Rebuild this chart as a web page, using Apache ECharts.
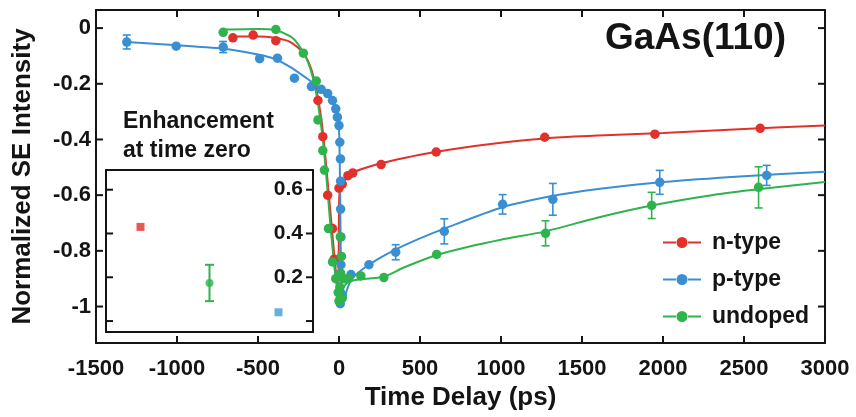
<!DOCTYPE html>
<html><head><meta charset="utf-8">
<script src="https://cdn.jsdelivr.net/npm/echarts@6/dist/echarts.min.js"></script>
<style>html,body{margin:0;padding:0;background:#fff}#c{width:856px;height:417px}</style>
</head><body><div id="c"></div>
<script>
// ---- data ----
const seriesNames = ['n-type', 'p-type', 'undoped'];
const xTickValues = [-1500, -1000, -500, 0, 500, 1000, 1500, 2000, 2500, 3000];
const yTickValues = [0, -0.2, -0.4, -0.6, -0.8, -1];

// measured points: [time (ps), normalized intensity, error]
const nTypePoints = [
  [-655, -0.035, 0], [-530, -0.025, 0], [-390, -0.045, 0], [-130, -0.26, 0], [-100, -0.39, 0],
  [-70, -0.6, 0], [-40, -0.72, 0], [-30, -0.83, 0], [0, -0.575, 0], [20, -0.56, 0],
  [55, -0.53, 0], [85, -0.52, 0], [260, -0.49, 0], [600, -0.445, 0], [1270, -0.392, 0],
  [1950, -0.381, 0], [2600, -0.36, 0]
];
const pTypePoints = [
  [-1310, -0.05, 0.025], [-1005, -0.065, 0], [-715, -0.068, 0.02], [-490, -0.11, 0], [-380, -0.108, 0],
  [-275, -0.18, 0], [-170, -0.21, 0], [-110, -0.22, 0], [-70, -0.235, 0], [-40, -0.26, 0],
  [-20, -0.29, 0], [-10, -0.32, 0], [0, -0.35, 0], [5, -0.41, 0], [9, -0.47, 0], [10, -0.55, 0],
  [10, -0.65, 0], [12, -0.75, 0], [12, -0.85, 0], [10, -0.95, 0], [8, -0.99, 0], [20, -0.96, 0],
  [74, -0.885, 0], [185, -0.85, 0], [350, -0.805, 0.027], [650, -0.73, 0.045], [1010, -0.633, 0.035],
  [1320, -0.615, 0.057], [1980, -0.554, 0.043], [2640, -0.529, 0.036]
];
const undopedPoints = [
  [-715, -0.015, 0], [-390, -0.005, 0], [-220, -0.09, 0], [-140, -0.19, 0], [-130, -0.33, 0],
  [-100, -0.44, 0], [-90, -0.51, 0], [-65, -0.72, 0], [-40, -0.84, 0], [-20, -0.9, 0],
  [-5, -0.95, 0], [0, -0.98, 0], [5, -0.93, 0], [10, -0.88, 0], [15, -0.82, 0], [8, -0.75, 0],
  [20, -0.97, 0], [30, -0.9, 0], [60, -0.9, 0], [135, -0.89, 0], [277, -0.896, 0],
  [603, -0.813, 0], [1275, -0.737, 0.045], [1930, -0.637, 0.047], [2590, -0.572, 0.074]
];

// fitted curves: [time (ps), value]
const nTypeFit = [
  [-660, -0.03], [-500, -0.03], [-400, -0.035], [-300, -0.05], [-220, -0.09], [-170, -0.15],
  [-130, -0.25], [-100, -0.37], [-75, -0.52], [-50, -0.68], [-30, -0.81], [-15, -0.9], [-4, -0.95],
  [2, -0.6], [20, -0.565], [50, -0.537], [100, -0.515], [200, -0.495], [300, -0.48], [500, -0.455],
  [700, -0.435], [1000, -0.412], [1300, -0.395], [1600, -0.386], [2000, -0.377], [2500, -0.362], [3000, -0.35]
];
const pTypeFit = [
  [-1310, -0.05], [-1000, -0.062], [-700, -0.075], [-500, -0.095], [-400, -0.11], [-300, -0.14],
  [-200, -0.18], [-120, -0.215], [-60, -0.24], [-30, -0.27], [-10, -0.31], [0, -0.36], [5, -0.5],
  [10, -0.75], [15, -0.97], [22, -0.985], [40, -0.955], [80, -0.9], [185, -0.85], [350, -0.795],
  [500, -0.755], [650, -0.72], [1000, -0.645], [1300, -0.605], [1600, -0.578], [2000, -0.553],
  [2500, -0.532], [3000, -0.516]
];
const undopedFit = [
  [-715, -0.005], [-500, -0.003], [-400, -0.006], [-300, -0.03], [-250, -0.06], [-200, -0.11],
  [-160, -0.18], [-130, -0.27], [-100, -0.4], [-80, -0.52], [-60, -0.66], [-40, -0.79], [-20, -0.9],
  [0, -0.96], [10, -0.965], [25, -0.935], [50, -0.915], [100, -0.905], [277, -0.893], [400, -0.86],
  [603, -0.815], [800, -0.785], [1000, -0.76], [1275, -0.73], [1600, -0.68], [1930, -0.637],
  [2300, -0.6], [2600, -0.578], [3000, -0.553]
];

// inset: enhancement at time zero
const insetCategories = ['n-type', 'undoped', 'p-type'];
const insetValues = [0.43, 0.174, 0.04];
const insetErrors = [0, 0.083, 0];
const insetTickValues = [0, 0.2, 0.4, 0.6];
const insetLabelValues = [0.2, 0.4, 0.6];

// ---- styling ----
const colors = { 'n-type': '#e2302b', 'p-type': '#3a8fd3', 'undoped': '#2fb34d' };
const insetColors = { 'n-type': '#e2302b', 'p-type': '#3d9ed2', 'undoped': '#2fb34d' };
const FONT = '"Liberation Sans", Arial, sans-serif';
const INK = '#141414';
const TICK_LEN = 7;

function errRender(params, api) {
  const x = api.value(0), y = api.value(1), e = api.value(2);
  const top = api.coord([x, y + e]), bot = api.coord([x, y - e]);
  const w = 4;
  const style = { stroke: api.visual('color'), lineWidth: 1.6 };
  return { type: 'group', children: [
    { type: 'line', shape: { x1: top[0], y1: top[1], x2: bot[0], y2: bot[1] }, style },
    { type: 'line', shape: { x1: top[0] - w, y1: top[1], x2: top[0] + w, y2: top[1] }, style },
    { type: 'line', shape: { x1: bot[0] - w, y1: bot[1], x2: bot[0] + w, y2: bot[1] }, style }
  ]};
}
// mirrored inside ticks, positioned through the axis scales
function xTickRender(params, api) {
  const cs = params.coordSys;
  const x = api.coord([api.value(0), api.value(1)])[0];
  const b = cs.y + cs.height, t = cs.y;
  const style = { stroke: INK, lineWidth: 2 };
  return { type: 'group', children: [
    { type: 'line', shape: { x1: x, y1: b, x2: x, y2: b - TICK_LEN }, style },
    { type: 'line', shape: { x1: x, y1: t, x2: x, y2: t + TICK_LEN }, style }
  ]};
}
function yTickRender(params, api) {
  const cs = params.coordSys;
  const y = api.coord([api.value(0), api.value(1)])[1];
  const l = cs.x, r = cs.x + cs.width;
  const style = { stroke: INK, lineWidth: 2 };
  return { type: 'group', children: [
    { type: 'line', shape: { x1: l, y1: y, x2: l + TICK_LEN, y2: y }, style },
    { type: 'line', shape: { x1: r, y1: y, x2: r - TICK_LEN, y2: y }, style }
  ]};
}

const pointSets = { 'n-type': nTypePoints, 'p-type': pTypePoints, 'undoped': undopedPoints };
const fitSets = { 'n-type': nTypeFit, 'p-type': pTypeFit, 'undoped': undopedFit };

const series = [];
seriesNames.forEach(name => {
  series.push({
    name, type: 'line', xAxisIndex: 0, yAxisIndex: 0, data: fitSets[name],
    smooth: 0.25, symbol: 'none', showSymbol: false, z: 2,
    lineStyle: { color: colors[name], width: 2 }, itemStyle: { color: colors[name] }
  });
});
seriesNames.forEach(name => {
  series.push({
    name, type: 'custom', xAxisIndex: 0, yAxisIndex: 0, z: 3,
    itemStyle: { color: colors[name] }, renderItem: errRender,
    data: pointSets[name].filter(p => p[2] > 0)
  });
});
seriesNames.forEach(name => {
  series.push({
    name, type: 'scatter', xAxisIndex: 0, yAxisIndex: 0, z: 4,
    symbol: 'circle', symbolSize: 9.5,
    itemStyle: { color: colors[name], opacity: 1 },
    data: pointSets[name].map(p => [p[0], p[1]])
  });
});
// axis ticks (main + inset)
series.push({ name: 'xTicks', type: 'custom', xAxisIndex: 0, yAxisIndex: 0, z: 7, silent: true,
  renderItem: xTickRender, data: xTickValues.map(v => [v, -0.5]) });
series.push({ name: 'yTicks', type: 'custom', xAxisIndex: 0, yAxisIndex: 0, z: 7, silent: true,
  renderItem: yTickRender, data: yTickValues.map(v => [0, v]) });
series.push({ name: 'insetTicks', type: 'custom', xAxisIndex: 2, yAxisIndex: 2, z: 7, silent: true,
  renderItem: yTickRender, data: insetTickValues.map(v => [1, v]) });
// inset
series.push({
  name: 'insetErr', type: 'custom', xAxisIndex: 2, yAxisIndex: 2, z: 5,
  renderItem: function (params, api) {
    const i = api.value(0), y = api.value(1), e = api.value(2);
    const top = api.coord([i, y + e]), bot = api.coord([i, y - e]);
    const w = 4.5, style = { stroke: insetColors[insetCategories[i]], lineWidth: 2 };
    return { type: 'group', children: [
      { type: 'line', shape: { x1: top[0], y1: top[1], x2: bot[0], y2: bot[1] }, style },
      { type: 'line', shape: { x1: top[0] - w, y1: top[1], x2: top[0] + w, y2: top[1] }, style },
      { type: 'line', shape: { x1: bot[0] - w, y1: bot[1], x2: bot[0] + w, y2: bot[1] }, style }
    ]};
  },
  data: insetCategories.map((c, i) => [i, insetValues[i], insetErrors[i]]).filter(d => d[2] > 0)
});
series.push({
  name: 'insetPts', type: 'scatter', xAxisIndex: 2, yAxisIndex: 2, z: 6,
  data: insetCategories.map((c, i) => ({
    value: [i, insetValues[i]],
    symbol: c === 'undoped' ? 'circle' : 'rect',
    symbolSize: 8,
    itemStyle: { color: insetColors[c] }
  }))
});

function frame() { return { show: true, onZero: false, lineStyle: { color: INK, width: 2 } }; }
const noTick = { show: false };
const legendIcon = 'path://M0,5L13,5L13,7L0,7Z M25,5L38,5L38,7L25,7Z M13.5,6a5.5,5.5 0 1,0 11,0a5.5,5.5 0 1,0 -11,0Z';
const Y_MIN = -1.131, Y_MAX = 0.065;

const option = {
  animation: false,
  backgroundColor: '#fff',
  grid: [
    { left: 96, top: 10, right: 31, bottom: 74 },
    { left: 106, top: 170, width: 207, height: 162 }
  ],
  xAxis: [
    { type: 'value', gridIndex: 0, position: 'bottom', min: -1500, max: 3000, interval: 500,
      axisLine: frame(), axisTick: noTick, splitLine: { show: false },
      axisLabel: { margin: 15, color: INK, fontSize: 22, fontWeight: 'bold', fontFamily: FONT, formatter: v => String(v) },
      name: 'Time Delay (ps)', nameLocation: 'middle', nameGap: 42,
      nameTextStyle: { color: INK, fontSize: 26, fontWeight: 'bold', fontFamily: FONT } },
    { type: 'value', gridIndex: 0, position: 'top', min: -1500, max: 3000, interval: 500,
      axisLine: frame(), axisTick: noTick, splitLine: { show: false }, axisLabel: { show: false } },
    { type: 'category', gridIndex: 1, data: insetCategories, boundaryGap: true, position: 'bottom',
      axisLine: frame(), axisTick: noTick, axisLabel: { show: false }, splitLine: { show: false } },
    { type: 'category', gridIndex: 1, data: insetCategories, boundaryGap: true, position: 'top',
      axisLine: frame(), axisTick: noTick, axisLabel: { show: false }, splitLine: { show: false } }
  ],
  yAxis: [
    { type: 'value', gridIndex: 0, position: 'left', min: Y_MIN, max: Y_MAX,
      axisLine: frame(), splitLine: { show: false }, axisTick: noTick,
      axisLabel: { customValues: yTickValues, margin: 5, color: INK, fontSize: 22, fontWeight: 'bold', fontFamily: FONT,
        formatter: v => (Math.abs(v) < 1e-9 ? '0' : (Math.abs(v + 1) < 1e-9 ? '-1' : v.toFixed(1))) },
      name: 'Normalized SE Intensity', nameLocation: 'middle', nameGap: 60, nameRotate: 90,
      nameTextStyle: { color: INK, fontSize: 26, fontWeight: 'bold', fontFamily: FONT } },
    { type: 'value', gridIndex: 0, position: 'right', min: Y_MIN, max: Y_MAX,
      axisLine: frame(), splitLine: { show: false }, axisTick: noTick, axisLabel: { show: false } },
    { type: 'value', gridIndex: 1, position: 'right', min: -0.05, max: 0.69,
      axisLine: frame(), splitLine: { show: false }, axisTick: noTick,
      axisLabel: { customValues: insetLabelValues, inside: true, margin: 10, color: INK, fontSize: 21, fontWeight: 'bold', fontFamily: FONT,
        formatter: v => v.toFixed(1) } },
    { type: 'value', gridIndex: 1, position: 'left', min: -0.05, max: 0.69,
      axisLine: frame(), splitLine: { show: false }, axisTick: noTick, axisLabel: { show: false } }
  ],
  legend: {
    data: seriesNames, orient: 'vertical', left: 663, top: 231, padding: 0, itemGap: 14,
    itemWidth: 38, itemHeight: 12, icon: legendIcon, selectedMode: false,
    textStyle: { color: INK, fontSize: 23, fontWeight: 'bold', fontFamily: FONT, padding: [0, 0, 0, 6] }
  },
  graphic: [
    { type: 'text', left: 605, top: 20, z: 10,
      style: { text: 'GaAs(110)', font: 'bold 37px ' + FONT, fill: INK } },
    { type: 'text', left: 123, top: 107, z: 10,
      style: { text: 'Enhancement\nat time zero', font: 'bold 23px ' + FONT, lineHeight: 29, fill: INK } }
  ],
  series
};

const chart = echarts.init(document.getElementById('c'), null, { renderer: 'canvas' });
chart.setOption(option);
</script>
</body></html>
